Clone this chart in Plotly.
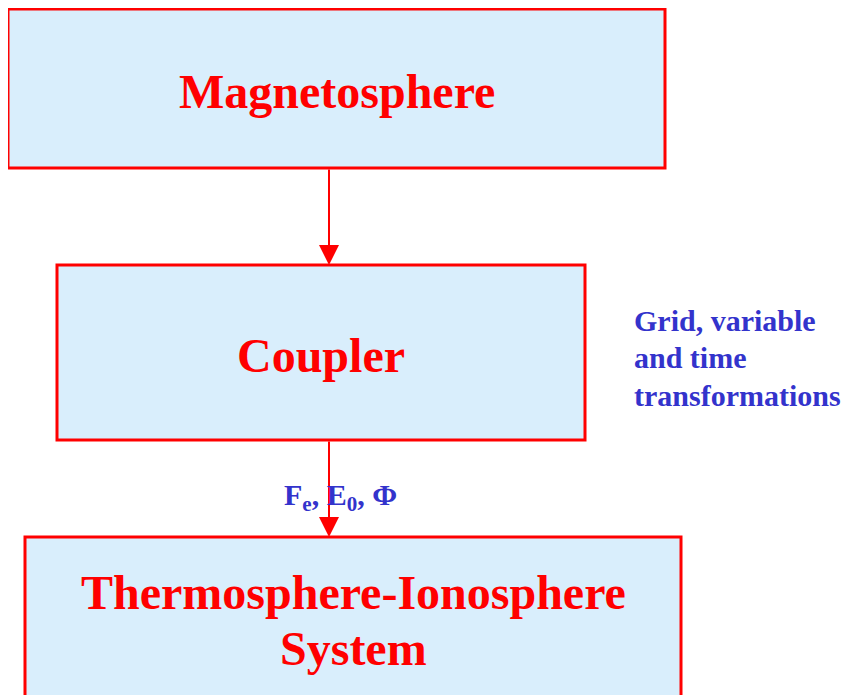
import plotly.graph_objects as go

# boxes: x/y extents in pixel-like coordinates, y pointing down
box_x0 = [8, 57, 25]
box_x1 = [665, 585, 681]
box_y0 = [9, 265, 537]
box_y1 = [168, 440, 720]

# box labels, one entry per text line
label_text = ["Magnetosphere", "Coupler", "Thermosphere-Ionosphere", "System"]
label_x = [337, 321, 353, 353]
label_y = [91, 355, 592, 648]

# arrows between boxes
arrow_x = [329, 329]
arrow_from = [168, 440]
arrow_to = [265, 537]

side_note = ["Grid, variable", "and time", "transformations"]
side_note_y = [320, 357, 395]
flux_label = "F<sub>e</sub>, E<sub>0</sub>, Φ"

RED = "#ff0000"
BLUE = "#3333cc"
FILL = "#d9eefc"
SERIF = "Liberation Serif, Times New Roman, serif"

# the page body has an 8px margin, so the plot is offset by that much
OFF = 8

fig = go.Figure()

for i in range(len(box_x0)):
    fig.add_shape(type="rect", xref="x", yref="y",
                  x0=box_x0[i], x1=box_x1[i], y0=box_y0[i], y1=box_y1[i],
                  fillcolor=FILL, line=dict(color=RED, width=3), layer="below")

for t, x, y in zip(label_text, label_x, label_y):
    fig.add_annotation(x=x, y=y, xref="x", yref="y",
                       text="<b>%s</b>" % t, showarrow=False,
                       font=dict(family=SERIF, size=48, color=RED))

for i in range(len(arrow_x)):
    fig.add_annotation(x=arrow_x[i], y=arrow_to[i], ax=arrow_x[i], ay=arrow_from[i],
                       xref="x", yref="y", axref="x", ayref="y", text="",
                       showarrow=True, arrowhead=2, arrowsize=2, arrowwidth=2,
                       arrowcolor=RED, standoff=0)

for t, y in zip(side_note, side_note_y):
    fig.add_annotation(x=632, y=y, xref="x", yref="y", xanchor="left",
                       text="<b>%s</b>" % t, showarrow=False,
                       font=dict(family=SERIF, size=30, color=BLUE))

fig.add_annotation(x=340, y=497, xref="x", yref="y",
                   text="<b>%s</b>" % flux_label, showarrow=False,
                   font=dict(family=SERIF, size=30, color=BLUE))

fig.update_layout(
    width=854 - OFF, height=695 - OFF,
    margin=dict(l=0, r=0, t=0, b=0),
    paper_bgcolor="white", plot_bgcolor="white",
    xaxis=dict(range=[OFF, 854], visible=False, fixedrange=True),
    yaxis=dict(range=[695, OFF], visible=False, fixedrange=True),
    showlegend=False,
)

fig.write_html("out.html")
